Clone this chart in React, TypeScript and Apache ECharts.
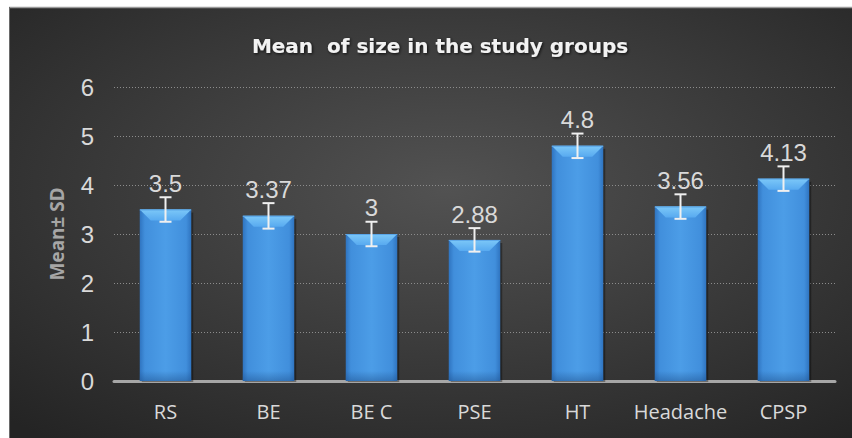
import React, { useEffect, useRef } from "react";
import * as echarts from "echarts";

const categories = ["RS", "BE", "BE C", "PSE", "HT", "Headache", "CPSP"];
const means = [3.5, 3.37, 3, 2.88, 4.8, 3.56, 4.13];
const sds = [0.25, 0.26, 0.25, 0.24, 0.25, 0.25, 0.25];
const yTicks = [0, 1, 2, 3, 4, 5, 6];

export default function App() {
  const ref = useRef<HTMLDivElement>(null);
  useEffect(() => {
    if (!ref.current) return;
    const chart = echarts.init(ref.current, undefined, { renderer: "svg" });
    const data = categories.map((c, i) => [i, means[i], sds[i]]);
    chart.setOption({
      animation: false,
      backgroundColor: "#ffffff",
      graphic: [
        {
          type: "rect",
          z: -10,
          silent: true,
          shape: { x: 9, y: 7, width: 843, height: 431 },
          style: {
            fill: {
              type: "radial",
              x: 0.52,
              y: 0.42,
              r: 0.75,
              colorStops: [
                { offset: 0, color: "#525252" },
                { offset: 1, color: "#242424" },
              ],
            },
          },
        },
        {
          type: "line",
          z: -9,
          silent: true,
          shape: { x1: 9, y1: 7.5, x2: 852, y2: 7.5 },
          style: { stroke: "#9a9a9a", lineWidth: 1.5 },
        },
        {
          type: "line",
          z: -9,
          silent: true,
          shape: { x1: 9.5, y1: 7, x2: 9.5, y2: 438 },
          style: { stroke: "#6a6a6a", lineWidth: 1 },
        },
      ],
      title: {
        text: "Mean  of size in the study groups",
        left: 435,
        top: 31,
        textAlign: "center",
        textStyle: {
          fontFamily: "DejaVu Sans",
          fontWeight: "bold",
          fontSize: 20,
          color: "#f2f2f2",
          textShadowColor: "rgba(0,0,0,0.8)",
          textShadowBlur: 3,
          textShadowOffsetX: 1,
          textShadowOffsetY: 1,
        },
      },
      grid: { left: 114, right: 17, top: 87, bottom: 57, containLabel: false },
      xAxis: {
        type: "category",
        data: categories,
        axisLine: { show: true, lineStyle: { color: "#a6a6a6", width: 3 } },
        axisTick: { show: false },
        axisLabel: {
          interval: 0,
          color: "#d9d9d9",
          fontFamily: "Open Sans",
          fontSize: 20,
          margin: 20,
        },
      },
      yAxis: {
        type: "value",
        min: 0,
        max: 6,
        interval: 1,
        name: "Mean± SD",
        nameLocation: "middle",
        nameGap: 48,
        nameTextStyle: {
          color: "#a6a6a6",
          fontFamily: "Noto Sans",
          fontWeight: "bold",
          fontSize: 19,
        },
        axisLine: { show: false },
        axisTick: { show: false },
        axisLabel: {
          color: "#d9d9d9",
          fontFamily: "Liberation Sans",
          fontSize: 24,
          margin: 20,
          formatter: (v: number) => (yTicks.includes(v) ? String(v) : ""),
        },
        splitLine: {
          show: true,
          lineStyle: { color: "#8c8c8c", type: [1, 2], width: 1 },
        },
      },
      series: [
        {
          type: "custom",
          data,
          z: 3,
          renderItem: (params: any, api: any) => {
            const idx = api.value(0);
            const val = api.value(1);
            const sd = api.value(2);
            const top = api.coord([idx, val]);
            const base = api.coord([idx, 0]);
            const catW = api.size([1, 0])[0];
            const w = catW * 0.5;
            const x0 = top[0] - w / 2;
            const x1 = top[0] + w / 2;
            const h = base[1] - top[1];
            const b = 11;
            const eTop = api.coord([idx, val + sd])[1];
            const eBot = api.coord([idx, val - sd])[1];
            const cx = top[0];
            return {
              type: "group",
              children: [
                {
                  type: "rect",
                  shape: { x: x0 + 2, y: top[1] + 3, width: w, height: h - 2 },
                  style: { fill: "rgba(0,0,0,0.35)" },
                },
                {
                  type: "rect",
                  shape: { x: x0, y: top[1], width: w, height: h },
                  style: {
                    fill: {
                      type: "linear",
                      x: 0,
                      y: 0,
                      x2: 1,
                      y2: 0,
                      colorStops: [
                        { offset: 0, color: "#2f74c0" },
                        { offset: 0.1, color: "#418fdc" },
                        { offset: 0.5, color: "#4c9de7" },
                        { offset: 0.9, color: "#418fdc" },
                        { offset: 1, color: "#2f74c0" },
                      ],
                    },
                  },
                },
                {
                  type: "rect",
                  shape: { x: x0, y: base[1] - 10, width: w, height: 10 },
                  style: {
                    fill: {
                      type: "linear",
                      x: 0,
                      y: 0,
                      x2: 0,
                      y2: 1,
                      colorStops: [
                        { offset: 0, color: "rgba(30,80,140,0)" },
                        { offset: 1, color: "rgba(30,80,140,0.45)" },
                      ],
                    },
                  },
                },
                {
                  type: "polygon",
                  shape: {
                    points: [
                      [x0, top[1]],
                      [x1, top[1]],
                      [x1 - b, top[1] + b],
                      [x0 + b, top[1] + b],
                    ],
                  },
                  style: {
                    fill: {
                      type: "linear",
                      x: 0,
                      y: 0,
                      x2: 0,
                      y2: 1,
                      colorStops: [
                        { offset: 0, color: "#7cc8f8" },
                        { offset: 1, color: "#58aaf0" },
                      ],
                    },
                  },
                },
                {
                  type: "line",
                  shape: { x1: x0, y1: top[1] + 0.5, x2: x1, y2: top[1] + 0.5 },
                  style: { stroke: "#5aa6e8", lineWidth: 1 },
                },
                {
                  type: "line",
                  shape: { x1: cx, y1: eTop, x2: cx, y2: eBot },
                  style: { stroke: "#f0f0f0", lineWidth: 2 },
                },
                {
                  type: "line",
                  shape: { x1: cx - 6, y1: eTop, x2: cx + 6, y2: eTop },
                  style: { stroke: "#f0f0f0", lineWidth: 2 },
                },
                {
                  type: "line",
                  shape: { x1: cx - 6, y1: eBot, x2: cx + 6, y2: eBot },
                  style: { stroke: "#f0f0f0", lineWidth: 2 },
                },
                {
                  type: "text",
                  style: {
                    text: String(val),
                    x: cx,
                    y: eTop - 2,
                    align: "center",
                    verticalAlign: "bottom",
                    fill: "#d9d9d9",
                    font: "24px 'Liberation Sans'",
                  },
                },
              ],
            };
          },
        },
      ],
    });
    return () => chart.dispose();
  }, []);
  return (
    <div
      ref={ref}
      style={{ position: "fixed", left: 0, top: 0, width: 852, height: 438 }}
    />
  );
}
